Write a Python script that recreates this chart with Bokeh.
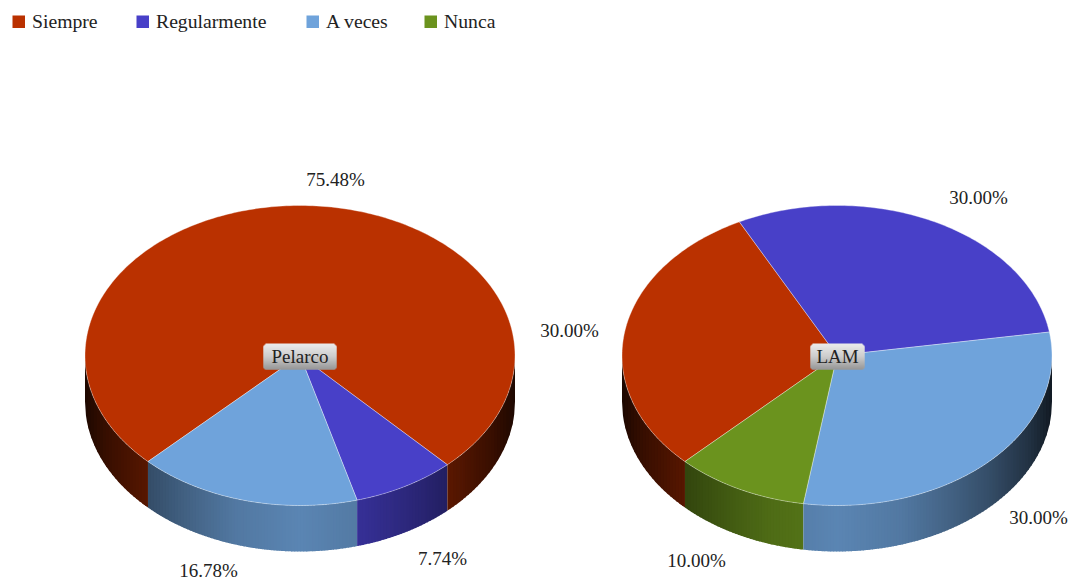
import numpy as np
from bokeh.embed import file_html
from bokeh.plotting import figure
from bokeh.resources import INLINE
from bokeh.core.properties import value

categories = ["Siempre", "Regularmente", "A veces", "Nunca"]
colors = ["#ba3100", "#4840c8", "#6fa3db", "#6b931e"]
pelarco = [75.48, 7.74, 16.78, 0.0]
lam = [30.0, 30.0, 30.0, 10.0]
chart_names = ["Pelarco", "LAM"]

pelarco_labels = ["75.48%", "30.00%", "7.74%", "16.78%"]
pelarco_label_x = [335, 569, 442, 208]
pelarco_label_y = [179, 330, 558, 570]
lam_labels = ["30.00%", "30.00%", "10.00%"]
lam_label_x = [978, 1038, 696]
lam_label_y = [197, 517, 560]

legend_x = [12, 136, 306, 424]

FONT = "Liberation Serif"
W, H = 1071, 581
RX, RY, DEPTH, CY = 215.0, 150.0, 46.0, 355.0
START = 135.0


def shade(hex_color, u):
    m = np.interp(abs(u), [0, .3, .5, .7, .9, 1.0], [.82, .74, .62, .48, .3, .16])
    rgb = [int(hex_color[i:i + 2], 16) for i in (1, 3, 5)]
    return "#%02x%02x%02x" % tuple(int(c * m) for c in rgb)


p = figure(width=W, height=H, x_range=(0, W), y_range=(H, 0),
           output_backend="svg", toolbar_location=None, min_border=0,
           outline_line_color=None, background_fill_color="white")
p.axis.visible = False
p.grid.visible = False


def draw_pie(vals, cx):
    spans = []
    a = START
    for v, c in zip(vals, colors):
        sweep = v * 3.6
        if sweep > 0:
            spans.append((a, a + sweep, c))
        a += sweep
    # side wall: vertical strips on the front half, left to right
    xs, ys, fc = [], [], []
    intervals = []
    for a0, a1, c in spans:
        for k in (-360, 0, 360):
            lo, hi = max(a0 + k, 0.0), min(a1 + k, 180.0)
            if hi > lo:
                intervals.append((lo, hi, c))
    for lo, hi, c in sorted(intervals, key=lambda r: -r[0]):
        ua, ub = np.cos(np.radians(hi)), np.cos(np.radians(lo))
        n = max(1, int(np.ceil((ub - ua) * RX / 3.0)))
        grid = np.linspace(ua, ub, n + 1)
        for i in range(n):
            right = min(grid[i + 1] + 0.8 / RX, ub)
            u = np.linspace(grid[i], right, 5)
            x = cx + RX * u
            y = CY + RY * np.sqrt(np.clip(1 - u * u, 0, 1))
            xs.append(np.r_[x, x[::-1]].tolist())
            ys.append(np.r_[y, (y + DEPTH)[::-1]].tolist())
            fc.append(shade(c, 0.5 * (grid[i] + grid[i + 1])))
    p.patches(xs, ys, fill_color=fc, line_color=None)
    # top faces
    xs, ys, fc = [], [], []
    for a0, a1, c in spans:
        n = max(2, int(a1 - a0) + 1)
        t = np.radians(np.linspace(a0, a1, n))
        xs.append(np.r_[cx, cx + RX * np.cos(t)].tolist())
        ys.append(np.r_[CY, CY + RY * np.sin(t)].tolist())
        fc.append(c)
    p.patches(xs, ys, fill_color=fc, line_color="#ffffff", line_alpha=0.35, line_width=1)


def draw_button(name, left, right, top, bottom):
    rows = int(bottom - top)
    edges = np.linspace(top, bottom, rows + 1)
    frac = (np.arange(rows) + .5) / rows
    grey = np.interp(frac, [0, .5, 1], [236, 205, 150]).astype(int)
    inset = np.zeros(rows)
    inset[:2] = [2, 1]
    inset[-2:] = [1, 2]
    bottoms = edges[1:] + 1.0
    bottoms[-1] = bottom
    p.quad(left=left + inset, right=right - inset, top=edges[:-1], bottom=bottoms,
           fill_color=["#%02x%02x%02x" % (g, g, g) for g in grey],
           line_color=None)
    p.text([(left + right) / 2], [(top + bottom) / 2], text=[name],
           text_font=value(FONT), text_font_size="19px", text_color="#222222",
           text_align="center", text_baseline="middle")


draw_pie(pelarco, 299.5)
draw_pie(lam, 836.5)
draw_button(chart_names[0], 263, 336, 343, 369)
draw_button(chart_names[1], 810, 864, 343, 369)

for lab, xs_, ys_ in ((pelarco_labels, pelarco_label_x, pelarco_label_y),
                      (lam_labels, lam_label_x, lam_label_y)):
    p.text(xs_, ys_, text=lab, text_font=value(FONT), text_font_size="19px",
           text_color="#222222", text_align="center", text_baseline="middle")

lx = np.array(legend_x, dtype=float)
p.quad(left=lx, right=lx + 12.5, top=[15] * 4, bottom=[27.5] * 4, fill_color=colors, line_color=None)
p.text((lx + 19.5).tolist(), [20.5] * 4, text=categories, text_font=value(FONT),
       text_font_size="19.7px", text_color="#222222", text_align="left", text_baseline="middle")

open("out.html", "w").write(file_html(p, INLINE))
